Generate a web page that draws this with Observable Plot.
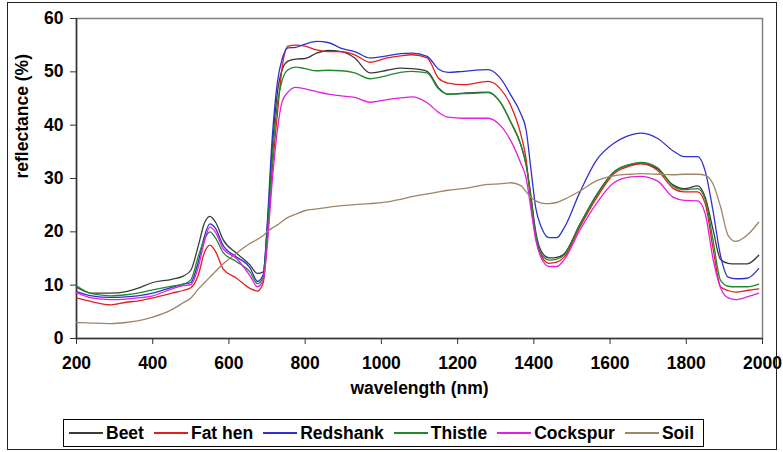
<!DOCTYPE html>
<html><head><meta charset="utf-8">
<script src="https://cdn.jsdelivr.net/npm/d3@7"></script>
<script src="https://cdn.jsdelivr.net/npm/@observablehq/plot@0.6"></script>
<style>
body{margin:0;background:#fff;font-family:"Liberation Sans",Arial,sans-serif;}
#wrap{position:relative;width:783px;height:452px;overflow:hidden;background:#fff}
#border{position:absolute;left:7px;top:2px;width:768px;height:446px;border:1px solid #222;pointer-events:none}
#legend{position:absolute;left:63px;top:419px;width:641px;height:28px;border:1px solid #000;box-sizing:border-box;display:flex;align-items:center;padding-left:5px;font-weight:bold;font-size:17.5px;color:#000}
.sw{display:inline-block;width:34px;height:1.5px;margin-right:3px}
.it{display:flex;align-items:center;margin-right:10px;white-space:nowrap}
</style></head>
<body>
<div id="wrap"><div id="chart"></div><div id="legend"></div><div id="border"></div></div>
<script>
const wavelengths = [200,240,290,330,360,400,450,480,500,520,535,550,565,585,620,655,675,690,700,713,727,740,755,775,800,830,860,895,930,970,1015,1050,1080,1120,1150,1175,1215,1280,1310,1340,1365,1380,1392,1405,1420,1440,1460,1480,1520,1565,1610,1655,1680,1725,1765,1795,1830,1850,1870,1890,1910,1930,1960,1990];

const beet = [9.6,8.5,8.5,8.8,9.4,10.5,11.1,11.7,12.8,17.5,21.5,22.9,21.8,18.5,16.0,13.8,12.2,12.5,20,35,46,50.5,52.0,52.4,52.5,53.5,54.0,53.8,52.6,49.8,50.3,50.7,50.6,50.1,47.0,45.8,46.0,46.2,44.5,40.5,36.5,32.5,27,20,16.3,15.1,15.2,15.9,21.3,27.0,31.2,32.6,32.8,31.8,28.8,28.1,28.6,26.4,20.5,14.8,14.1,14.0,14.0,15.6];
const fatHen = [7.6,6.9,6.3,6.8,7.0,7.6,8.5,9.0,9.5,12.0,16.0,17.5,16.3,13.0,11.3,9.4,8.9,10.5,18,31,42,51,54.8,55.0,54.8,54.1,53.8,53.8,53.2,51.8,52.6,53.0,53.2,52.6,48.8,47.9,47.6,48.2,47.0,43.6,38.5,33.5,25.5,19,15.5,14.1,14.3,15.3,20.8,26.4,30.9,32.4,32.8,31.5,28.2,27.5,27.5,25.2,17,9.7,9.0,8.7,9.0,9.3];
const redshank = [8.8,8.0,7.7,7.8,8.0,8.5,9.6,10.2,10.5,14.5,19.0,21.5,20.6,17.4,15.3,13.3,10.7,12,21,37,48,52.5,54.5,54.6,55.2,55.7,55.5,54.4,53.8,52.6,53.0,53.4,53.5,52.9,50.5,49.9,50.1,50.4,49.0,45.6,42.3,39,32,24.5,20.8,18.9,18.9,20.8,27.3,33.5,36.6,38.2,38.5,37.5,35.2,34.1,34.1,31.3,24,15.5,11.5,11.2,11.3,13.1];
const thistle = [9.9,8.4,8.0,8.2,8.5,9.1,9.8,10.2,11.0,15.5,18.5,20.0,18.8,16.1,14.4,12.5,10.3,11.5,19,33,44,48.5,50.4,50.9,50.6,50.2,50.3,50.2,49.8,48.7,49.3,49.9,50.1,49.8,46.8,45.8,45.9,46.1,44.5,40.5,36.5,32.5,26.5,19.5,15.8,14.7,14.9,15.7,21.2,26.8,31.2,32.7,33.0,32.0,28.6,27.9,28.1,26.0,18.5,10.9,9.8,9.7,9.7,10.2];
const cockspur = [8.6,7.6,7.3,7.4,7.6,8.0,9.3,9.9,10.1,13.5,18.0,20.9,19.9,16.8,15.0,11.8,9.7,11,17,29,39,44.5,46.2,47.1,46.8,46.3,45.8,45.5,45.2,44.3,44.8,45.1,45.3,44.2,42.4,41.5,41.3,41.3,40.1,37,33,30,24.5,18.5,15,13.5,13.5,14.8,20.2,25.4,29.2,30.3,30.4,29.5,26.5,25.9,25.8,23.3,15,9.5,7.6,7.3,7.8,8.5];
const soil = [3.0,2.9,2.8,3.0,3.3,4.0,5.4,6.7,7.6,9.3,10.4,11.5,12.6,14.0,16.0,17.8,18.6,19.3,20.0,20.7,21.3,22.0,22.7,23.3,24.0,24.3,24.6,24.9,25.1,25.3,25.6,26.1,26.6,27.1,27.5,27.8,28.1,28.9,29.0,29.2,28.7,27.5,26.5,25.8,25.4,25.3,25.5,26.1,27.6,29.6,30.5,30.8,30.9,30.8,30.7,30.8,30.8,30.6,29.0,24.7,19.3,18.2,19.4,21.8];

const names = ["Beet","Fat hen","Redshank","Thistle","Cockspur","Soil"];
const colors = ["#3a3a3a","#e02020","#3030d0","#1f8a2a","#e020e0","#a08468"];
const xTicks = [200,400,600,800,1000,1200,1400,1600,1800,2000];
const yTicks = [0,10,20,30,40,50,60];

const seriesValues = [beet, fatHen, redshank, thistle, cockspur, soil];
const rows = [];
names.forEach((n, k) => wavelengths.forEach((w, i) => rows.push({wavelength: w, reflectance: seriesValues[k][i], name: n})));

const font = "Liberation Sans, Arial, sans-serif";
const chart = Plot.plot({
  width: 783, height: 416,
  marginLeft: 76, marginRight: 21, marginTop: 18, marginBottom: 78,
  style: {fontFamily: font, fontSize: "17.5px", fontWeight: "bold", color: "#000", background: "transparent", overflow: "visible"},
  x: {domain: [200, 2000]},
  y: {domain: [0, 60]},
  color: {domain: names, range: colors},
  marks: [
    Plot.frame({stroke: "#808080", strokeWidth: 1.5}),
    Plot.axisX({ticks: xTicks, tickSize: 6, tickPadding: 12, label: null, tickFormat: d => String(d), stroke: "#333"}),
    Plot.axisY({ticks: yTicks, tickSize: 6, tickPadding: 7, label: null, tickFormat: d => String(d), stroke: "#333"}),
    Plot.ruleX([200], {stroke: "#333", strokeWidth: 1.5}),
    Plot.ruleY([0], {stroke: "#333", strokeWidth: 1.5}),
    Plot.line(rows, {x: "wavelength", y: "reflectance", z: "name", stroke: "name", strokeWidth: 1.3, curve: "monotone-x"}),
    Plot.text(["wavelength (nm)"], {text: d => d, frameAnchor: "bottom", dy: 55, fontSize: 17.5, fontWeight: "bold", fill: "#000"}),
    Plot.text(["reflectance (%)"], {text: d => d, frameAnchor: "left", rotate: -90, dx: -54, fontSize: 17.5, fontWeight: "bold", fill: "#000"})
  ]
});
document.getElementById("chart").appendChild(chart);

const legend = document.getElementById("legend");
names.forEach((n, i) => {
  const it = document.createElement("div");
  it.className = "it";
  const sw = document.createElement("span");
  sw.className = "sw";
  sw.style.background = colors[i];
  const tx = document.createElement("span");
  tx.textContent = n;
  it.appendChild(sw); it.appendChild(tx);
  legend.appendChild(it);
});
</script>
</body></html>
